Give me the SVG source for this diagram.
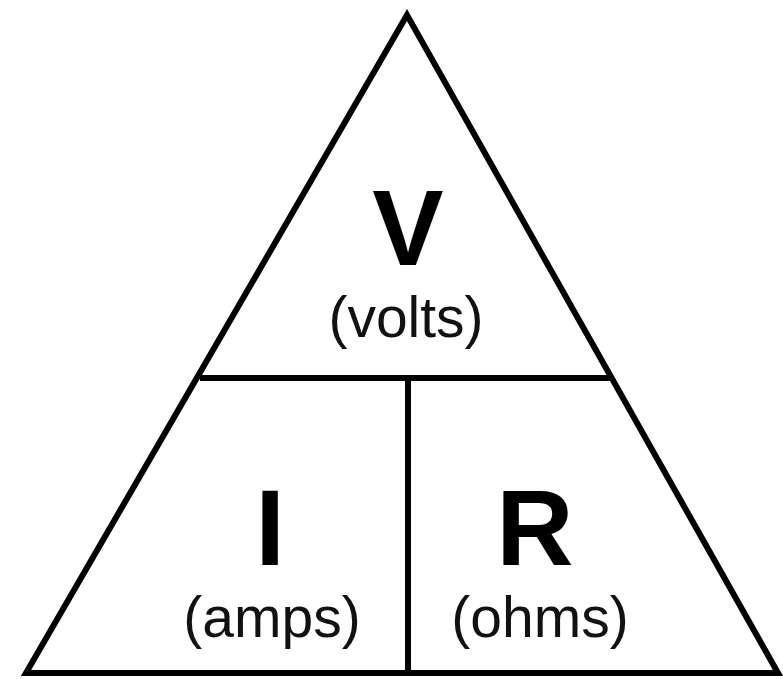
<svg xmlns="http://www.w3.org/2000/svg" width="783" height="679" viewBox="0 0 783 679">
<style>
.ln{stroke:#000;stroke-width:6;fill:none;stroke-linejoin:miter}
.big{font-family:"Liberation Sans",Arial,sans-serif;font-weight:bold;font-size:107px;fill:#000;text-anchor:middle}
.sm{font-family:"Liberation Sans",Arial,sans-serif;font-size:57px;fill:#111;text-anchor:middle}
</style>
<rect width="783" height="679" fill="#fff"/>
<g id="connectors">
<polygon class="ln" points="407,15 26,673 778,673"/>
<line class="ln" x1="200" y1="378" x2="613" y2="378"/>
<line class="ln" x1="408" y1="378" x2="408" y2="673"/>
</g>
<g id="node-v">
<text class="big" x="408" y="265">V</text>
<text class="sm" x="406" y="337">(volts)</text>
</g>
<g id="node-i">
<text class="big" x="270" y="565">I</text>
<text class="sm" x="272" y="637">(amps)</text>
</g>
<g id="node-r">
<text class="big" x="535" y="565">R</text>
<text class="sm" x="540" y="637">(ohms)</text>
</g>
</svg>
